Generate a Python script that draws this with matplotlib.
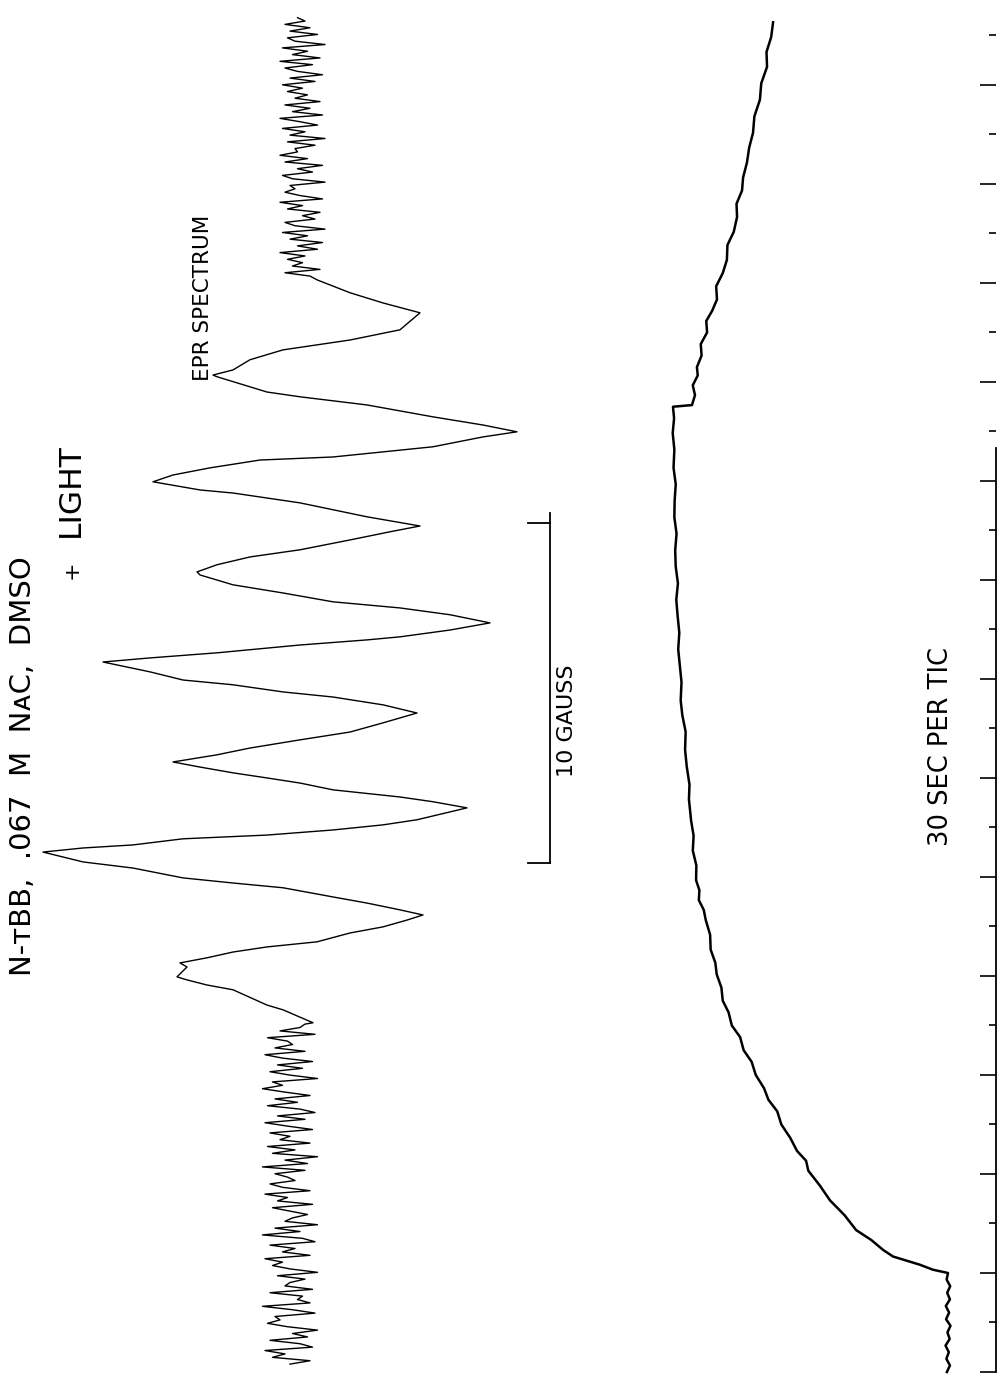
import numpy as np
import matplotlib
matplotlib.use("Agg")
import matplotlib.pyplot as plt
from matplotlib.ticker import MultipleLocator, NullFormatter

plt.rcParams["font.family"] = ["DejaVu Sans"]

# --- EPR spectrum (first derivative), field in gauss, signal in arbitrary units ---
epr_field = [-11.26, -10.88, -10.74, -10.29, -10.15, -10.00, -9.91, -9.62, -9.50, -9.35,
             -9.18, -9.03, -8.88, -8.62, -8.44, -8.24, -8.09, -7.94, -7.74, -7.56,
             -7.29, -7.15, -7.00, -6.71, -6.53, -6.24, -6.12, -6.03, -5.85, -5.74,
             -5.59, -5.44, -5.29, -4.94, -4.76, -4.62, -4.41, -4.21, -4.06, -3.91,
             -3.74, -3.59, -3.38, -3.18, -2.94, -2.71, -2.44, -2.15, -1.91, -1.68,
             -1.53, -1.32, -1.18, -0.94, -0.65, -0.53, -0.38, -0.15, 0.00, 0.09,
             0.29, 0.50, 0.74, 0.94, 1.12, 1.38, 1.62, 1.91, 2.00, 2.21,
             2.44, 2.65, 2.94, 3.18, 3.35, 3.62, 4.03, 4.32, 4.41, 4.65,
             4.85, 5.06, 5.29, 5.38, 5.68, 5.97, 6.12, 6.32, 6.56, 6.91,
             7.15, 7.29, 7.74, 7.79, 7.94, 8.24, 8.53, 8.82, 9.12, 9.62,
             9.91, 10.21, 10.59]
epr_signal = [-5.2, 6.8, 13.2, 26.8, 37.2, 45.2, 49.2, 45.2, 48.0, 37.2,
              26.8, 13.2, -6.8, -20.0, -33.2, -42.8, -49.2, -40.0, -26.8, -13.2,
              6.8, 26.8, 46.8, 66.8, 86.8, 102.8, 86.8, 66.8, 46.8, 13.2,
              -13.2, -33.2, -46.8, -66.8, -53.2, -40.0, -13.2, 0.0, 13.2, 26.8,
              40.0, 50.8, 33.2, 20.0, 0.0, -20.0, -33.2, -46.8, -33.2, -13.2,
              6.8, 26.8, 46.8, 60.0, 78.8, 60.0, 33.2, 0.0, -26.8, -40.0,
              -60.0, -76.0, -60.0, -40.0, -13.2, 6.8, 26.8, 40.0, 41.2, 33.2,
              20.0, 0.0, -20.0, -36.0, -48.0, -26.8, 0.0, 26.8, 40.0, 58.8,
              50.8, 36.0, 16.0, -13.2, -53.2, -73.2, -86.8, -73.2, -53.2, -26.8,
              0.0, 13.2, 33.2, 34.8, 26.8, 20.0, 6.8, -20.0, -40.0, -48.0,
              -33.2, -20.0, -6.8]

noise_low_range = (-21.3, -11.3)
noise_low = [2, -6, 9, 4, 12, -7, -2, 10, -5, 1,
             -9, 3, 11, 6, 8, -8, 1, 13, -6, -1,
             -3, 10, -7, 4, 2, -4, 7, -9, 2, 9,
             5, 12, -6, 5, 0, 10, -8, -3, 13, -2,
             8, -9, 4, 1, -5, 2, 9, -7, 7, 3,
             12, -6, 5, 10, 0, 3, 8, -4, 13, -5,
             4, -9, 9, 0, 11, -6, 6, 2, 10, -7,
             3, 12, -4, 7, -8, -2, 11, -1, 8, -6,
             4, 13, 5, 9, -9, 2, 10, -3, 7, -7,
             5, 12, -4, 8, 1, 3, 11, -8, 6, -2, -4]
noise_high_range = (10.7, 18.3)
noise_high = [-4, 6, -8, 3, -1, 5, -2, 8, -7, 1,
              -9, 4, -3, 7, -10, 2, 6, -6, -1, -8,
              5, -1, 8, -9, 0, 6, 2, 4, -10, 3,
              7, -5, 1, -9, 6, -3, 8, 1, 2, -6,
              5, -10, 4, -2, 7, -7, 0, 8, -9, 3,
              -4, 6, -8, 2, -3, 5, -1, 7, -6, 4,
              -9, 1, 6, -5, 8, -8, 3, -3, 7, -10,
              2, 5, -7, 4, -4, 6, -2, 1]

scale_bar_gauss = 10

# --- kinetic trace: time in s (30 s per tic), signal in arbitrary units ---
kin_time = [0, 4, 8, 12, 16, 20, 24, 28, 32, 36, 40, 44, 48, 52, 56, 60,
            62, 65, 70, 74, 80, 86, 95, 104, 113, 122,
            128, 134, 142, 150, 158, 165, 172, 180, 188, 195,
            203, 210, 218, 225, 233, 241, 248, 256, 265, 274,
            280, 286, 292, 298, 307, 316, 325, 334, 347, 356,
            367, 377, 388, 398, 407, 418, 428, 438, 448, 458,
            468, 478, 488, 498, 508, 518, 528, 538, 548, 559,
            569, 578, 585,
            586, 592, 598, 604, 609, 616, 623, 630, 637, 643,
            650, 658, 666, 674, 683, 691, 700, 708, 716, 724,
            733, 742, 751, 761, 771, 781, 791, 800, 809, 818]
kin_signal = [0.4, -0.7, 0.6, -0.3, 0.9, -0.6, 0.2, -0.9, 0.7, -0.4, 0.8, -0.7, 0.3, -0.8, 0.5, 0.0,
              5.5, 10.2, 20.0, 23.6, 27.9, 33.4, 37.6, 42.9, 46.6, 50.8,
              51.6, 54.9, 57.4, 60.6, 62.1, 65.3, 66.9, 69.9, 71.4, 74.3,
              75.6, 78.6, 79.8, 81.9, 82.4, 84.1, 84.6, 86.3, 86.5, 88.1,
              88.8, 90.6, 90.4, 91.6, 91.5, 92.8, 92.5, 93.4, 94.2, 94.0,
              95.0, 95.6, 95.4, 96.6, 97.2, 96.9, 97.5, 98.1, 97.7, 98.3,
              98.8, 98.2, 99.0, 99.2, 98.7, 99.5, 99.4, 99.0, 99.8, 99.5,
              100.1, 99.6, 100.0,
              93.1, 92.0, 92.8, 91.0, 91.3, 89.6, 89.9, 87.6, 87.9, 85.8,
              84.0, 84.3, 81.9, 80.4, 80.2, 77.9, 76.7, 76.9, 74.9, 74.5,
              73.1, 72.3, 70.9, 70.4, 68.4, 67.9, 65.8, 66.0, 64.3, 63.6]
tic_seconds = 30

fig = plt.figure(figsize=(9.98, 13.75), dpi=100)

# spectrum axes (chart is drawn rotated: field runs up the page, signal to the left)
ax = fig.add_axes([0, 0, 1, 1])
ax.set_xlim(120, -279.2)
ax.set_ylim(-21.62, 18.82)
ax.axis("off")

f_low = np.linspace(noise_low_range[0], noise_low_range[1], len(noise_low))
f_high = np.linspace(noise_high_range[0], noise_high_range[1], len(noise_high))
field = np.concatenate([f_low, epr_field, f_high])
signal = np.concatenate([np.array(noise_low) + 2, epr_signal, noise_high])
ax.plot(signal, field, color="black", lw=1.0)

# 10 gauss bar
bar_top = 3.44
ax.plot([-100, -100], [bar_top - scale_bar_gauss, bar_top + 0.3], color="black", lw=1.3)
ax.plot([-91.2, -100], [bar_top, bar_top], color="black", lw=1.3)
ax.plot([-91.2, -100], [bar_top - scale_bar_gauss, bar_top - scale_bar_gauss], color="black", lw=1.3)

# kinetics axes, overlaid
ax2 = fig.add_axes([0, 0, 996 / 998, 1])
ax2.patch.set_alpha(0)
ax2.set_xlim(344.7, -17.45)
ax2.set_ylim(-1.82, 831.5)
ax2.plot(kin_signal, kin_time, color="black", lw=1.8)
for s in ["left", "top", "bottom"]:
    ax2.spines[s].set_visible(False)
ax2.spines["right"].set_linewidth(1.3)
ax2.spines["right"].set_bounds(0, 560)
ax2.set_xticks([])
ax2.yaxis.set_ticks_position("right")
ax2.yaxis.set_major_locator(MultipleLocator(2 * tic_seconds))
ax2.yaxis.set_minor_locator(MultipleLocator(tic_seconds))
ax2.yaxis.set_major_formatter(NullFormatter())
ax2.tick_params(axis="y", which="major", direction="in", length=11.5, width=1.2)
ax2.tick_params(axis="y", which="minor", direction="in", length=5, width=1.2)


def label(x, y, s, size):
    fig.text(x / 998, 1 - y / 1375, s, rotation=90, ha="center", va="center",
             fontsize=size, color="black")


label(23, 766, "N-\u1d1bBB,  .067  M  N\u1d00C,  DMSO", 21)
label(72, 570, "+", 16)
label(70, 490, "LIGHT", 22.5)
label(203, 298, "EPR SPECTRUM", 15.5)
label(567, 721, "10 GAUSS", 16)
label(941, 746, "30 SEC PER TIC", 18.5)

fig.savefig("out.png", dpi=100, facecolor="white")
